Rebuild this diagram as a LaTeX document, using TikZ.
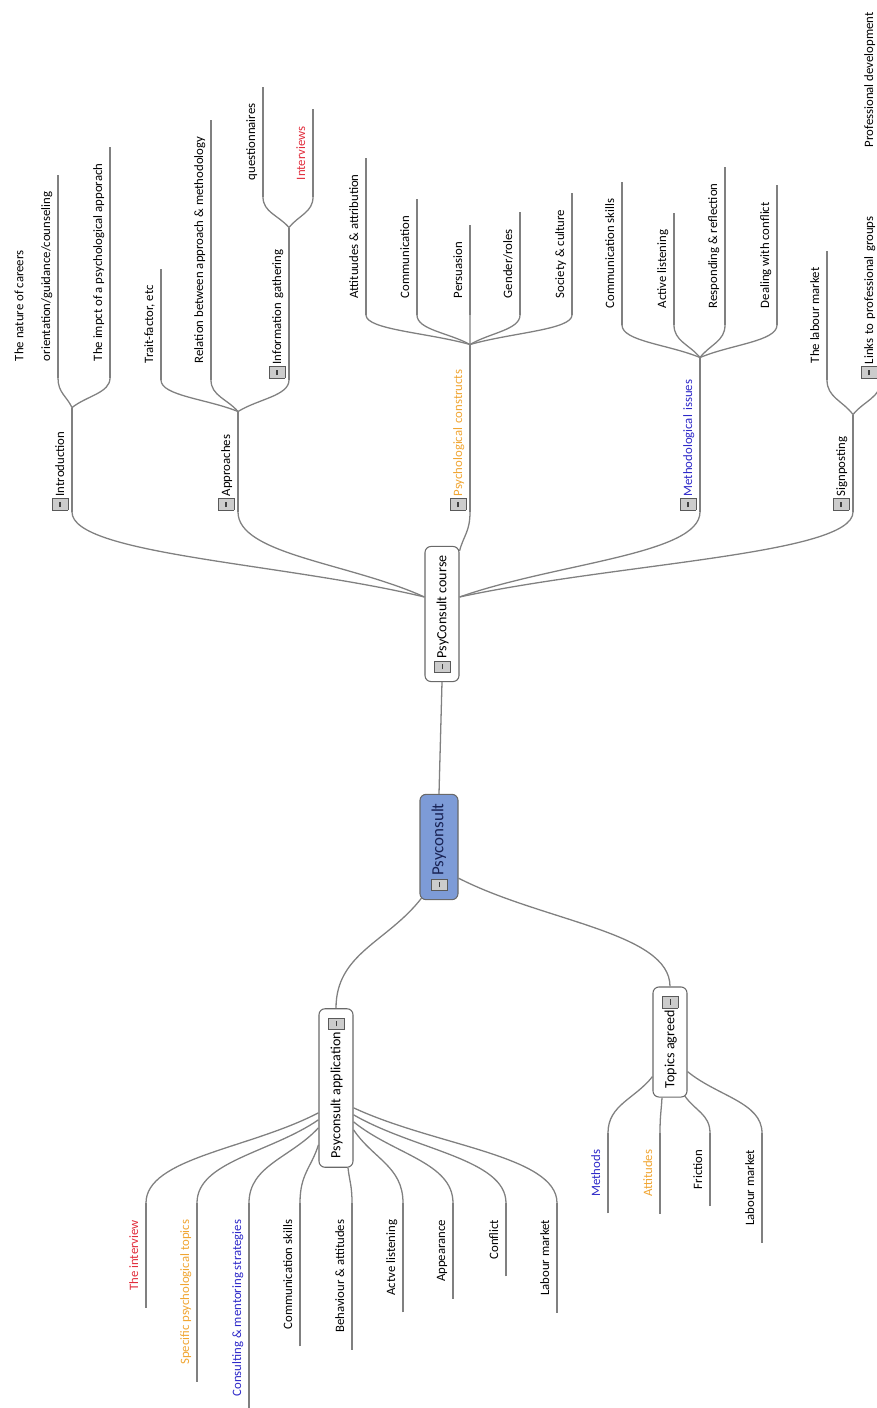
\documentclass[tikz,border=0pt]{standalone}
\usepackage{fontspec}
\setmainfont{Carlito}
\usetikzlibrary{calc}
\definecolor{linegray}{RGB}{128,128,128}
\definecolor{boxgray}{RGB}{105,105,105}
\definecolor{rootblue}{RGB}{125,155,215}
\definecolor{rootink}{RGB}{25,35,85}
\definecolor{mapred}{RGB}{225,45,60}
\definecolor{maporange}{RGB}{240,165,50}
\definecolor{mapblue}{RGB}{45,40,200}
\newcommand{\foldbtn}{\raisebox{-1mm}{\setlength{\fboxsep}{0pt}\setlength{\fboxrule}{0.3pt}\fcolorbox{gray!70!black}{gray!40}{\makebox[3.4mm]{\color{black!75}\rule[2.1mm]{1.6mm}{0.35mm}}\rule{0pt}{4.6mm}}}}
\newcommand{\leaffont}{\fontsize{10.9}{13}\selectfont}
\tikzset{
    mapline/.style={draw=linegray,line width=1.1pt},
    mapcurve/.style={to path={let \p1=(\tikztostart),\p2=(\tikztotarget) in .. controls ($(\p1)!0.4!(\p2)$) and ($(\p2)!0.5!(\x2,\y1)$) .. (\p2)}},
    leaf/.style={rotate=90,font=\leaffont,inner xsep=5mm,inner ysep=1.4mm,text height=0.75em,text depth=0.25em,
        append after command={(\tikzlastnode.south west) edge[mapline] (\tikzlastnode.south east)}},
    topic/.style={leaf,inner xsep=0.4mm,text width=#1,align=left},
    mainbox/.style={rotate=90,draw=boxgray,line width=0.9pt,fill=white,rounded corners=1.8mm,
        font=\fontsize{12}{14}\selectfont,minimum height=10.2mm,inner xsep=2.7mm},
    rootbox/.style={mainbox,fill=rootblue,text=rootink,font=\fontsize{14.5}{17}\selectfont,minimum height=11.4mm}
}
\begin{document}
\begin{tikzpicture}[x=0.3mm,y=-0.3mm]
    \useasboundingbox (0,0) rectangle (877,1408);
    \clip (0,0) rectangle (877,1408);
    \node[rootbox] (root) at (439,847) {\foldbtn\,Psyconsult};
    \node[mainbox] (course) at (442,614) {\foldbtn\,PsyConsult course};
    \node[mainbox] (app) at (336,1088) {Psyconsult application\,\foldbtn};
    \node[mainbox] (agreed) at (670,1042) {Topics agreed\,\foldbtn};
    \node[topic=30.4mm,anchor=south west] (intro) at (72,512) {\foldbtn\,Introduction};
    \node[topic=29.2mm,anchor=south west] (appr) at (238,512) {\foldbtn\,Approaches};
    \node[topic=49.3mm,anchor=south west,text=maporange] (psy) at (470,512) {\foldbtn\,Psychological constructs};
    \node[topic=45.4mm,anchor=south west,text=mapblue] (meth) at (700,512) {\foldbtn\,Methodological issues};
    \node[topic=28.3mm,anchor=south west] (sign) at (853,512) {\foldbtn\,Signposting};
    \node[leaf,anchor=south west,align=left] (nature) at (58,378) {The nature of careers\\[3.5mm]orientation/guidance/counseling};
    \node[leaf,anchor=south west] (impact) at (110,378) {The impct of a psychological apporach};
    \node[leaf,anchor=south west] (trait) at (161,380) {Trait-factor, etc};
    \node[leaf,anchor=south west] (relation) at (211,380) {Relation between approach \& methodology};
    \node[topic=44.8mm,anchor=south west] (info) at (289,380) {\foldbtn\,Information gathering};
    \node[leaf,anchor=south west] (quest) at (263,197) {questionnaires};
    \node[leaf,anchor=south west,text=mapred] (interv) at (313,197) {Interviews};
    \node[leaf,anchor=south west] (attrib) at (366,315) {Attituudes \& attribution};
    \node[leaf,anchor=south west] (commun) at (417,315) {Communication};
    \node[leaf,anchor=south west] (persua) at (470,315) {Persuasion};
    \node[leaf,anchor=south west] (gender) at (520,315) {Gender/roles};
    \node[leaf,anchor=south west] (society) at (572,315) {Society \& culture};
    \node[leaf,anchor=south west] (comskill) at (622,325) {Communication skills};
    \node[leaf,anchor=south west] (listen) at (674,325) {Active listening};
    \node[leaf,anchor=south west] (respond) at (725,325) {Responding \& reflection};
    \node[leaf,anchor=south west] (dealing) at (777,325) {Dealing with conflict};
    \node[leaf,anchor=south west] (labour) at (827,380) {The labour market};
    \node[topic=53.2mm,anchor=south west] (links) at (881,380) {\foldbtn\,Links to professional groups};
    \node[leaf,anchor=south west] (profdev) at (881,164) {Professional development};
    \node[leaf,anchor=south east,text=mapred] (interview) at (146,1203) {The interview};
    \node[leaf,anchor=south east,text=maporange] (specific) at (197,1203) {Specific psychological topics};
    \node[leaf,anchor=south east,text=mapblue] (consult) at (249,1203) {Consulting \& mentoring strategies};
    \node[leaf,anchor=south east] (comm2) at (300,1203) {Communication skills};
    \node[leaf,anchor=south east] (behav) at (352,1203) {Behaviour \& attitudes};
    \node[leaf,anchor=south east] (actve) at (403,1203) {Actve listening};
    \node[leaf,anchor=south east] (appear) at (453,1203) {Appearance};
    \node[leaf,anchor=south east] (conflict2) at (506,1203) {Conflict};
    \node[leaf,anchor=south east] (labour2) at (557,1203) {Labour market};
    \node[leaf,anchor=south east,text=mapblue] (methods) at (608,1133) {Methods};
    \node[leaf,anchor=south east,text=maporange] (attit) at (660,1133) {Attitudes};
    \node[leaf,anchor=south east] (friction) at (710,1133) {Friction};
    \node[leaf,anchor=south east] (labour3) at (762,1133) {Labour market};
    \coordinate (courseL) at ($(course.north)+(0,-17)$);
    \coordinate (courseR) at ($(course.south)+(0,-17)$);
    \draw[mapline] (root.east) -- (course.west);
    \draw[mapline] ($(root.north west)+(2,-2)$) to[mapcurve] (app.east);
    \draw[mapline] ($(root.south west)+(0,-22)$) to[mapcurve] (agreed.east);
    \draw[mapline] (courseL) to[mapcurve] (intro.south west);
    \draw[mapline] (courseL) to[mapcurve] (appr.south west);
    \draw[mapline] ($(course.south east)+(0,5)$) to[mapcurve] (psy.south west);
    \draw[mapline] (courseR) to[mapcurve] (meth.south west);
    \draw[mapline] (courseR) to[mapcurve] (sign.south west);
    \draw[mapline] (intro.south east) to[mapcurve] (nature.south west);
    \draw[mapline] (intro.south east) to[mapcurve] (impact.south west);
    \draw[mapline] (appr.south east) to[mapcurve] (trait.south west);
    \draw[mapline] (appr.south east) to[mapcurve] (relation.south west);
    \draw[mapline] (appr.south east) to[mapcurve] (info.south west);
    \draw[mapline] (info.south east) to[mapcurve] (quest.south west);
    \draw[mapline] (info.south east) to[mapcurve] (interv.south west);
    \draw[mapline] (psy.south east) to[mapcurve] (attrib.south west);
    \draw[mapline] (psy.south east) to[mapcurve] (commun.south west);
    \draw[mapline] (psy.south east) to[mapcurve] (persua.south west);
    \draw[mapline] (psy.south east) to[mapcurve] (gender.south west);
    \draw[mapline] (psy.south east) to[mapcurve] (society.south west);
    \draw[mapline] (meth.south east) to[mapcurve] (comskill.south west);
    \draw[mapline] (meth.south east) to[mapcurve] (listen.south west);
    \draw[mapline] (meth.south east) to[mapcurve] (respond.south west);
    \draw[mapline] (meth.south east) to[mapcurve] (dealing.south west);
    \draw[mapline] (sign.south east) to[mapcurve] (labour.south west);
    \draw[mapline] (sign.south east) to[mapcurve] (links.south west);
    \draw[mapline] (links.south east) to[mapcurve] (profdev.south west);
    \draw[mapline] ($(app.north west)+(0,-55)$) to[mapcurve] (interview.south east);
    \draw[mapline] ($(app.north west)+(0,-48)$) to[mapcurve] (specific.south east);
    \draw[mapline] ($(app.north west)+(0,-40)$) to[mapcurve] (consult.south east);
    \draw[mapline] ($(app.north west)+(0,-23)$) to[mapcurve] (comm2.south east);
    \draw[mapline] ($(app.west)+(12,0)$) to[mapcurve] (behav.south east);
    \draw[mapline] ($(app.south west)+(0,-38)$) to[mapcurve] (actve.south east);
    \draw[mapline] ($(app.south west)+(0,-46)$) to[mapcurve] (appear.south east);
    \draw[mapline] ($(app.south west)+(0,-53)$) to[mapcurve] (conflict2.south east);
    \draw[mapline] ($(app.south west)+(0,-60)$) to[mapcurve] (labour2.south east);
    \draw[mapline] ($(agreed.north west)+(0,-21)$) to[mapcurve] (methods.south east);
    \draw[mapline] ($(agreed.west)+(-8,0)$) to[mapcurve] (attit.south east);
    \draw[mapline] ($(agreed.south west)+(-3,-2)$) to[mapcurve] (friction.south east);
    \draw[mapline] ($(agreed.south west)+(0,-26)$) to[mapcurve] (labour3.south east);
\end{tikzpicture}
\end{document}
